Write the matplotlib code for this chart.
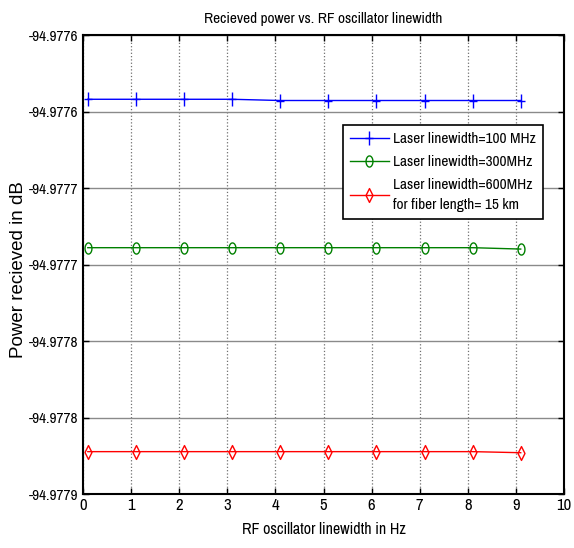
import matplotlib
matplotlib.use("Agg")
import matplotlib.pyplot as plt
import numpy as np
from matplotlib.path import Path

# ---- data ----
rf_linewidth = [0.1, 1.1, 2.1, 3.1, 4.1, 5.1, 6.1, 7.1, 8.1, 9.1]
power_100 = [-94.977592, -94.977592, -94.977592, -94.977592, -94.9775928,
             -94.9775928, -94.9775928, -94.9775928, -94.9775928, -94.9775928]
power_300 = [-94.977689, -94.977689, -94.977689, -94.977689, -94.977689,
             -94.977689, -94.977689, -94.977689, -94.977689, -94.9776899]
power_600 = [-94.9778223, -94.9778223, -94.9778223, -94.9778223, -94.9778223,
             -94.9778223, -94.9778223, -94.9778223, -94.9778223, -94.977823]
series_labels = ["Laser linewidth=100 MHz", "Laser linewidth=300MHz",
                 "Laser linewidth=600MHz\nfor fiber length= 15 km"]
y_ticks = [-94.97785, -94.9778, -94.97775, -94.9777, -94.97765, -94.9776, -94.97755]
y_tick_labels = ["-94.9779", "-94.9778", "-94.9778", "-94.9777", "-94.9777", "-94.9776", "-94.9776"]
x_ticks = [0, 1, 2, 3, 4, 5, 6, 7, 8, 9, 10]

narrow = ["Archivo Narrow", "Roboto Condensed", "DejaVu Sans"]
regular = ["Liberation Sans", "DejaVu Sans"]

# horizontally squeezed markers, as in the reference
t = np.linspace(0, 2 * np.pi, 40)
ellipse = Path(np.column_stack([0.62 * np.cos(t), np.sin(t)]), closed=True)
diamond = Path([(0, 1), (0.5, 0), (0, -1), (-0.5, 0), (0, 1)],
               [Path.MOVETO, Path.LINETO, Path.LINETO, Path.LINETO, Path.CLOSEPOLY])
plus = Path([(0, 1), (0, -1), (-0.55, 0), (0.55, 0)],
            [Path.MOVETO, Path.LINETO, Path.MOVETO, Path.LINETO])

fig = plt.figure(figsize=(5.74, 5.48), dpi=100)
ax = fig.add_axes([0.1446, 0.0985, 0.838, 0.8376])

ax.plot(rf_linewidth, power_100, color="#0000ff", marker=plus, markersize=9.5,
        markeredgewidth=1.0, linewidth=1.0, label=series_labels[0])
ax.plot(rf_linewidth, power_300, color="#008000", marker=ellipse, markersize=8,
        markerfacecolor="none", markeredgewidth=1.0, linewidth=1.0, label=series_labels[1])
ax.plot(rf_linewidth, power_600, color="#ff0000", marker=diamond, markersize=10,
        markerfacecolor="none", markeredgewidth=1.0, linewidth=1.0, label=series_labels[2])

ax.set_xlim(0, 10)
ax.set_ylim(-94.97785, -94.97755)
ax.set_xticks(x_ticks)
ax.set_xticklabels([str(v) for v in x_ticks], fontfamily=narrow, fontsize=12)
ax.set_yticks(y_ticks)
ax.set_yticklabels(y_tick_labels, fontfamily=narrow, fontsize=11)
ax.tick_params(direction="in", length=4, width=1.0, top=True, right=True, pad=3)

ax.xaxis.grid(True, color="#707070", linestyle=":", linewidth=0.9)
ax.yaxis.grid(True, color="#8a8a8a", linestyle="-", linewidth=1.0)
ax.set_axisbelow(True)
for s in ax.spines.values():
    s.set_linewidth(1.5)
    s.set_color("black")

ax.set_title("Recieved power vs. RF oscillator linewidth", fontfamily=narrow,
             fontsize=11, pad=9)
ax.set_xlabel("RF oscillator linewidth in Hz", fontfamily=narrow, fontsize=11.5, labelpad=6)
ax.set_ylabel("Power recieved in dB", fontfamily=regular, fontsize=13.5)
ax.yaxis.set_label_coords(-0.117, 0.49)

leg = ax.legend(loc="upper right", bbox_to_anchor=(0.956, 0.804), borderaxespad=0,
                prop={"family": narrow, "size": 11},
                frameon=True, fancybox=False, edgecolor="black", framealpha=1,
                handlelength=2.5, handletextpad=0.3, borderpad=0.45, labelspacing=0.6)
leg.get_frame().set_linewidth(1.2)
leg.get_texts()[2].set_linespacing(1.5)

fig.savefig("out.png", dpi=100)
